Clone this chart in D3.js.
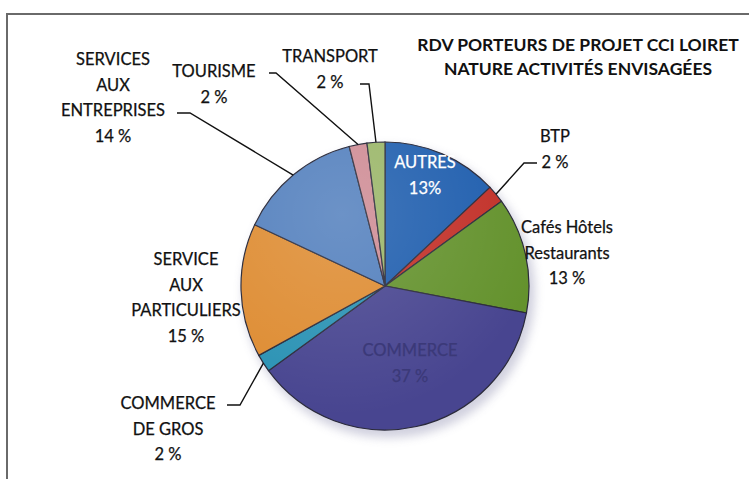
<!DOCTYPE html>
<html>
<head>
<meta charset="utf-8">
<script src="https://cdn.jsdelivr.net/npm/d3@7"></script>
<style>
  body { margin: 0; background: #fff; }
  text { font-family: Lato, "Open Sans", sans-serif; }
</style>
</head>
<body>
<script>
// --- data ---
const categories = ["AUTRES", "BTP", "Cafés Hôtels Restaurants", "COMMERCE", "COMMERCE DE GROS",
  "SERVICE AUX PARTICULIERS", "SERVICES AUX ENTREPRISES", "TOURISME", "TRANSPORT"];
const values = [13, 2, 13, 37, 2, 15, 14, 2, 2];
const colors = ["#2369c2", "#d8352c", "#6fa232", "#504da0", "#2fa2c8",
  "#f79c38", "#5b8dd2", "#e59ba5", "#abcb74"];
const title = ["RDV PORTEURS DE PROJET CCI LOIRET", "NATURE ACTIVITÉS ENVISAGÉES"];

// --- layout (label blocks outside / inside the pie) ---
const labelLayout = {
  0: { x: 425, y: 164, lines: ["AUTRES", "13%"], fill: "#fff" },
  1: { x: 555, y: 138, lines: ["BTP", "2 %"], hook: [537, 163, 524] },
  2: { x: 567, y: 229, lines: ["Cafés Hôtels", "Restaurants", "13 %"] },
  3: { x: 410, y: 352, lines: ["COMMERCE", "37 %"], fill: "#3b3978" },
  4: { x: 168, y: 405, lines: ["COMMERCE", "DE GROS", "2 %"], hook: [227, 405, 240] },
  5: { x: 186, y: 261, lines: ["SERVICE", "AUX", "PARTICULIERS", "15 %"] },
  6: { x: 113, y: 61, lines: ["SERVICES", "AUX", "ENTREPRISES", "14 %"], hook: [177, 113, 190] },
  7: { x: 214, y: 73, lines: ["TOURISME", "2 %"], hook: [269, 73, 276] },
  8: { x: 330, y: 58, lines: ["TRANSPORT", "2 %"], hook: [360, 84, 369] }
};

const W = 749, H = 479;
const cx = 385, cy = 286, R = 144;

const svg = d3.select("body").append("svg").attr("width", W).attr("height", H);
const defs = svg.append("defs");

// Rahmen
svg.append("rect").attr("x", 7).attr("y", 14).attr("width", 800).attr("height", 520)
  .attr("fill", "none").attr("stroke", "#6a6a6a").attr("stroke-width", 2);

// Schatten
const blur = defs.append("filter").attr("id", "shadow").attr("x", "-20%").attr("y", "-20%")
  .attr("width", "140%").attr("height", "140%");
blur.append("feGaussianBlur").attr("stdDeviation", 5);
svg.append("circle").attr("cx", cx + 4).attr("cy", cy + 6).attr("r", R + 2)
  .attr("fill", "#9a9ab8").attr("opacity", 0.45).attr("filter", "url(#shadow)");

// Gradients pro Segment
colors.forEach((c, i) => {
  const g = defs.append("radialGradient").attr("id", "grad" + i)
    .attr("gradientUnits", "userSpaceOnUse")
    .attr("cx", cx).attr("cy", cy).attr("r", R);
  g.append("stop").attr("offset", "0%").attr("stop-color", d3.color(c).brighter(0.1));
  g.append("stop").attr("offset", "80%").attr("stop-color", c);
  g.append("stop").attr("offset", "100%").attr("stop-color", d3.color(c).darker(0.3));
});

const pie = d3.pie().sort(null).value(d => d);
const arcs = pie(values);
const arc = d3.arc().innerRadius(0).outerRadius(R);

const g = svg.append("g").attr("transform", `translate(${cx},${cy})`);
g.selectAll("path.slice").data(arcs).enter().append("path")
  .attr("class", "slice")
  .attr("d", arc)
  .attr("fill", (d, i) => `url(#grad${i})`)
  .attr("stroke", "#2a2a3a").attr("stroke-width", 1.2);

// Glanz oben links
const shine = defs.append("radialGradient").attr("id", "shine")
  .attr("cx", "35%").attr("cy", "25%").attr("r", "70%");
shine.append("stop").attr("offset", "0%").attr("stop-color", "#fff").attr("stop-opacity", 0.15);
shine.append("stop").attr("offset", "100%").attr("stop-color", "#fff").attr("stop-opacity", 0);
g.append("circle").attr("r", R).attr("fill", "url(#shine)").attr("pointer-events", "none");

// Leader lines
arcs.forEach((d, i) => {
  const L = labelLayout[i];
  if (!L.hook) return;
  const a = (d.startAngle + d.endAngle) / 2;
  const px = cx + R * Math.sin(a), py = cy - R * Math.cos(a);
  const [x0, y0, x1] = L.hook;
  svg.append("path")
    .attr("d", `M${x0},${y0} L${x1},${y0} L${px},${py}`)
    .attr("fill", "none").attr("stroke", "#111").attr("stroke-width", 1.4);
});

// Labels
categories.forEach((c, i) => {
  const L = labelLayout[i];
  const col = L.fill || "#111";
  const t = svg.append("text")
    .attr("text-anchor", "middle")
    .attr("font-size", 16.5)
    .attr("fill", col).attr("stroke", col).attr("stroke-width", 0.25);
  L.lines.forEach((ln, k) => {
    t.append("tspan").attr("x", L.x).attr("y", L.y + k * 25.5)
      .attr("dominant-baseline", "middle").text(ln);
  });
});

// Titel
title.forEach((ln, k) => {
  svg.append("text").attr("x", 578).attr("y", 47 + k * 24)
    .attr("text-anchor", "middle").attr("dominant-baseline", "middle")
    .attr("font-size", 17.5).attr("font-weight", "bold").attr("fill", "#111")
    .text(ln);
});
</script>
</body>
</html>
